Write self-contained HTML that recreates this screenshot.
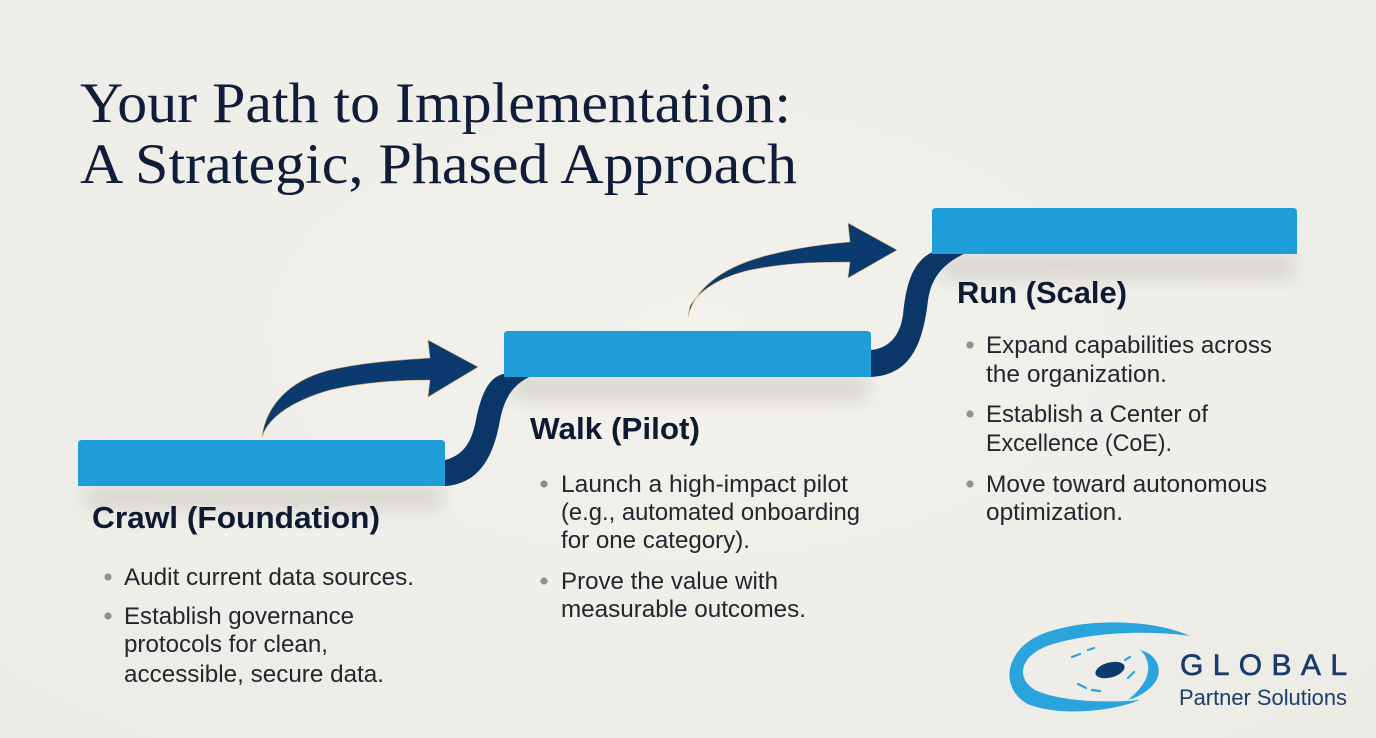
<!DOCTYPE html>
<html>
<head>
<meta charset="utf-8">
<style>
  html,body{margin:0;padding:0;background:#f1efea;}
  svg{display:block;}
</style>
</head>
<body>
<svg width="1376" height="738" viewBox="0 0 1376 738" xmlns="http://www.w3.org/2000/svg">
  <defs>
    <filter id="blur" x="-20%" y="-50%" width="140%" height="200%">
      <feGaussianBlur stdDeviation="9"/>
    </filter>
    <radialGradient id="bg" cx="50%" cy="45%" r="75%">
      <stop offset="0" stop-color="#f3f1ec"/>
      <stop offset="1" stop-color="#ecebe6"/>
    </radialGradient>
  </defs>
  <rect width="1376" height="738" fill="url(#bg)"/>

  <!-- Title -->
  <g font-family="'Liberation Serif', serif" font-size="57" fill="#0f1d38">
    <text x="80" y="122" textLength="711" lengthAdjust="spacingAndGlyphs">Your Path to Implementation:</text>
    <text x="80" y="183" textLength="717" lengthAdjust="spacingAndGlyphs">A Strategic, Phased Approach</text>
  </g>

  <!-- Shadows under bars -->
  <rect x="86" y="484" width="356" height="26" fill="#d6d3cd" filter="url(#blur)" opacity="0.85"/>
  <rect x="512" y="375" width="356" height="26" fill="#d6d3cd" filter="url(#blur)" opacity="0.85"/>
  <rect x="940" y="252" width="354" height="28" fill="#d6d3cd" filter="url(#blur)" opacity="0.85"/>

  <!-- Connector ribbons -->
  <path d="M445,460 C465,455 472,440 476,420 C481,395 488,378 503,374 L536,374 C515,382 505,395 500,420 C494,455 480,484 445,486 Z" fill="#0a3668"/>
  <path d="M871,350 C890,348 900,335 903,315 C906,285 912,260 935,251 L970,251 C945,262 932,275 928,300 C923,345 910,375 871,377 Z" fill="#0a3668"/>

  <!-- Bars -->
  <path d="M78,444 Q78,440 82,440 L441,440 Q445,440 445,444 L445,486 L78,486 Z" fill="#1e9dd8"/>
  <path d="M504,335 Q504,331 508,331 L867,331 Q871,331 871,335 L871,377 L504,377 Z" fill="#1e9dd8"/>
  <path d="M932,212 Q932,208 936,208 L1293,208 Q1297,208 1297,212 L1297,254 L932,254 Z" fill="#1e9dd8"/>

  <!-- Curved arrows -->
  <path d="M262,437 C266,405 290,380 330,370 C365,362 400,360 430,358 L428,340 L478,367 L428,397 L430,380 C395,380 360,383 330,390 C295,400 272,415 264,432 Z" fill="#0b3a6e" stroke="#c9a86a" stroke-width="0.6"/>
  <path d="M688,317 C694,290 720,268 765,256 C795,248 825,244 850,242 L848,223 L897,250 L848,278 L850,262 C815,262 785,263 750,270 C720,277 700,290 690,306 Z" fill="#0b3a6e" stroke="#c9a86a" stroke-width="0.6"/>

  <!-- Headings -->
  <g font-family="'Liberation Sans', sans-serif" font-weight="bold" font-size="31" fill="#0e1a30">
    <text x="92" y="528" textLength="288" lengthAdjust="spacingAndGlyphs">Crawl (Foundation)</text>
    <text x="530" y="439" textLength="170" lengthAdjust="spacingAndGlyphs">Walk (Pilot)</text>
    <text x="957" y="303" textLength="170" lengthAdjust="spacingAndGlyphs">Run (Scale)</text>
  </g>

  <!-- Bullet dots -->
  <g fill="#8d9096">
    <circle cx="108" cy="577" r="3.6"/>
    <circle cx="108" cy="616" r="3.6"/>
    <circle cx="544" cy="484" r="3.6"/>
    <circle cx="544" cy="581" r="3.6"/>
    <circle cx="970" cy="345" r="3.6"/>
    <circle cx="970" cy="414" r="3.6"/>
    <circle cx="970" cy="484" r="3.6"/>
  </g>

  <!-- Body text -->
  <g font-family="'Liberation Sans', sans-serif" font-size="24" fill="#22262d">
    <text x="124" y="585" textLength="290" lengthAdjust="spacingAndGlyphs">Audit current data sources.</text>
    <text x="124" y="624" textLength="230" lengthAdjust="spacingAndGlyphs">Establish governance</text>
    <text x="124" y="652" textLength="204" lengthAdjust="spacingAndGlyphs">protocols for clean,</text>
    <text x="124" y="682" textLength="260" lengthAdjust="spacingAndGlyphs">accessible, secure data.</text>

    <text x="561" y="492" textLength="287" lengthAdjust="spacingAndGlyphs">Launch a high-impact pilot</text>
    <text x="561" y="520" textLength="299" lengthAdjust="spacingAndGlyphs">(e.g., automated onboarding</text>
    <text x="561" y="548" textLength="189" lengthAdjust="spacingAndGlyphs">for one category).</text>
    <text x="561" y="589" textLength="217" lengthAdjust="spacingAndGlyphs">Prove the value with</text>
    <text x="561" y="617" textLength="245" lengthAdjust="spacingAndGlyphs">measurable outcomes.</text>

    <text x="986" y="353" textLength="286" lengthAdjust="spacingAndGlyphs">Expand capabilities across</text>
    <text x="986" y="382" textLength="181" lengthAdjust="spacingAndGlyphs">the organization.</text>
    <text x="986" y="422" textLength="222" lengthAdjust="spacingAndGlyphs">Establish a Center of</text>
    <text x="986" y="451" textLength="186" lengthAdjust="spacingAndGlyphs">Excellence (CoE).</text>
    <text x="986" y="492" textLength="281" lengthAdjust="spacingAndGlyphs">Move toward autonomous</text>
    <text x="986" y="520" textLength="137" lengthAdjust="spacingAndGlyphs">optimization.</text>
  </g>

  <!-- Logo -->
  <g>
    <path d="M1190,636 C1150,618 1080,618 1040,635 C1005,650 998,690 1030,705 C1060,716 1110,712 1140,700 C1110,703 1060,702 1035,690 C1015,678 1020,655 1050,645 C1090,632 1150,630 1190,636 Z" fill="#2ba3dc"/>
    <path d="M1140,650 C1160,655 1165,675 1150,688 C1142,695 1135,698 1128,700 C1140,690 1150,678 1148,665 C1147,658 1144,653 1140,650 Z" fill="#2ba3dc"/>
    <ellipse cx="1110" cy="670" rx="15" ry="7.5" transform="rotate(-15 1110 670)" fill="#0d3a6e"/>
    <g stroke="#2ba3dc" stroke-width="2.2" stroke-linecap="round" fill="none">
      <path d="M1072,657 L1080,654"/>
      <path d="M1088,650 L1094,648"/>
      <path d="M1078,684 L1086,688"/>
      <path d="M1092,690 L1100,691"/>
      <path d="M1128,678 L1134,672"/>
      <path d="M1125,660 L1130,657"/>
    </g>
    <text x="1180" y="675" font-family="'Liberation Sans', sans-serif" font-size="30" fill="#1a3a6b" stroke="#1a3a6b" stroke-width="0.6" textLength="167" lengthAdjust="spacing">GLOBAL</text>
    <text x="1179" y="705" font-family="'Liberation Sans', sans-serif" font-size="22" fill="#1d3d6b" textLength="168" lengthAdjust="spacingAndGlyphs">Partner Solutions</text>
  </g>
</svg>
</body>
</html>
